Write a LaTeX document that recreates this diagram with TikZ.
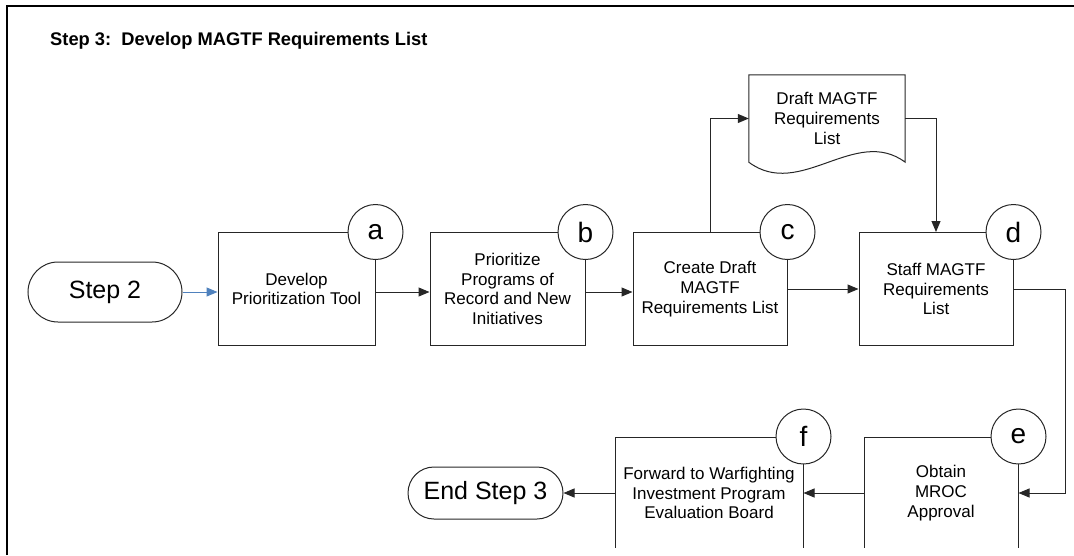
\documentclass[tikz,border=0pt]{standalone}
\usepackage{fontspec}
\setmainfont{Liberation Sans}
\usetikzlibrary{arrows.meta,shapes.misc,calc}
\definecolor{lnc}{HTML}{262626}
\definecolor{bluearr}{HTML}{4F81BD}
\begin{document}
\begin{tikzpicture}[x=1pt,y=-1pt,
  line/.style={draw=lnc, line width=1pt},
  arr/.style={line, -{Triangle[length=11pt,width=9pt]}},
  proc/.style={line, rectangle, align=center, font=\fontsize{17}{19.8}\selectfont, inner sep=2pt},
  tag/.style={line, circle, fill=white, minimum size=55pt, inner sep=0pt, font=\fontsize{28}{28}\selectfont},
  term/.style={line, rounded rectangle, inner sep=0pt, font=\fontsize{25}{25}\selectfont},
]
\useasboundingbox (0,0) rectangle (1074,555);
\draw[line width=2pt] (6.5,555) -- (6.5,5.5) -- (1074,5.5);
\node[anchor=base west, inner sep=0pt, font=\bfseries\fontsize{18.3}{20}\selectfont] (title) at (50,45) {Step 3:\ \ Develop MAGTF Requirements List};
\begin{scope}
\clip (0,0) rectangle (1074,547);
% terminals
\node[term, minimum width=154pt, minimum height=60pt] (s2) at (105,292) {Step 2};
\node[term, minimum width=155pt, minimum height=52pt] (end) at (485.5,493) {End Step 3};
% process boxes
\node[proc, minimum width=157pt, minimum height=113pt] (a) at (296.5,289) {Develop\\Prioritization Tool};
\node[proc, minimum width=155pt, minimum height=113pt] (b) at (507.5,289) {Prioritize\\Programs of\\Record and New\\Initiatives};
\node[proc, minimum width=154pt, minimum height=113pt] (c) at (710,289) {Create Draft\\MAGTF\\Requirements List};
\node[proc, minimum width=154pt, minimum height=113pt] (d) at (936,289) {Staff MAGTF\\Requirements\\List};
\node[proc, minimum width=154pt, minimum height=112pt] (e) at (941,493) {Obtain\\MROC\\Approval};
\node[proc, minimum width=188pt, minimum height=112pt] (f) at (709,493) {Forward to Warfighting\\Investment Program\\Evaluation Board};
% document
\node[align=center, font=\fontsize{17}{19.8}\selectfont, minimum width=156pt, minimum height=87pt, inner sep=0pt] (doc) at (827,118.5) {Draft MAGTF\\Requirements\\List};
\draw[line] (doc.north west) -- (doc.north east) -- (doc.south east)
  .. controls ($(doc.south east)+(-50,-37)$) and ($(doc.south west)+(51,38)$) .. (doc.south west) -- cycle;
% connectors
\draw[line width=1pt, draw=bluearr, -{Triangle[length=11pt,width=9pt]}, bluearr] (s2.east) -- (a.west |- s2.east);
\draw[arr] (a.east |- s2.east) -- (b.west |- s2.east);
\draw[arr] (b.east |- s2.east) -- (c.west |- s2.east);
\draw[arr] (c.east) -- (d.west);
\draw[arr] (c.north) |- (doc.west);
\draw[arr] (doc.east) -| (d.north);
\draw[arr] (d.east) -- ++(52,0) |- (e.east);
\draw[arr] (e.west) -- (f.east);
\draw[arr] (f.west) -- (end.east);
% tags
\node[tag] (ta) at (a.north east) {a};
\node[tag] (tb) at (b.north east) {b};
\node[tag] (tc) at (c.north east) {c};
\node[tag] (td) at (d.north east) {d};
\node[tag] (te) at (e.north east) {e};
\node[tag] (tf) at (f.north east) {f};
\end{scope}
\end{tikzpicture}
\end{document}
